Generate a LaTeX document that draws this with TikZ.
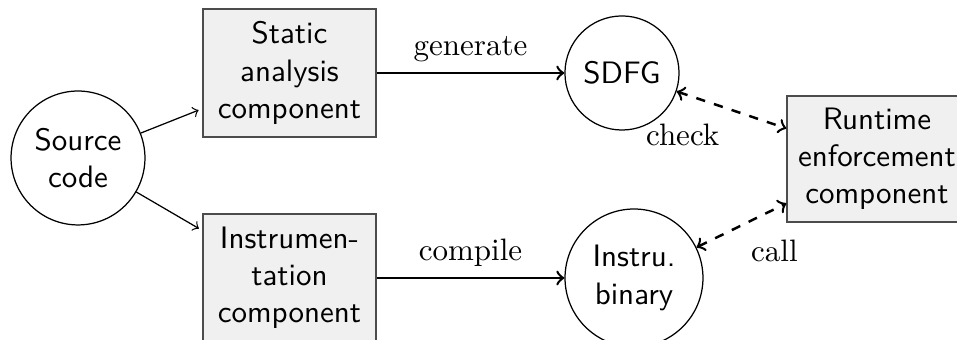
\documentclass[tikz,border=0pt]{standalone}
\usetikzlibrary{arrows}

\tikzset{
  comp/.style={rectangle, draw=black!70, fill=black!6, font=\sffamily,
    align=center, inner sep=0pt},
  blob/.style={circle, draw, font=\sffamily, align=center, inner sep=0pt},
  lbl/.style={font=\rmfamily},
  flow/.style={->, thick},
  feed/.style={->, thin, shorten >=1.3pt},
  talk/.style={<->, thick, dashed},
}

\begin{document}
\begin{tikzpicture}[x=0.3226pt, y=-0.3226pt]
  \useasboundingbox (0,0) rectangle (957,340);

  % inputs and components
  \node[blob, minimum size=43.2pt] (src) at (78,158) {Source\\code};
  \node[comp, minimum width=55.8pt, minimum height=41.3pt] (sa) at (289.5,73)
    {Static\\analysis\\component};
  \node[comp, minimum width=55.8pt, minimum height=41.3pt] (ins) at (289.5,278)
    {Instrumen-\\tation\\component};

  % products
  \node[blob, minimum size=36.8pt] (sdfg) at (622,73) {SDFG};
  \node[blob, minimum size=44.5pt] (bin) at (634,278) {Instru.\\binary};

  % runtime side
  \node[comp, minimum width=58.1pt, minimum height=40.6pt] (rt) at (877,159)
    {Runtime\\enforcement\\component};

  % connectors
  \draw[feed] (src) -- ([yshift=-11.5pt]sa.west);
  \draw[feed] (src) -- ([yshift=15.3pt]ins.west);

  \draw[flow] (sa) -- (sdfg) node[lbl, midway, above] {generate};
  \draw[flow] (ins) -- (bin) node[lbl, midway, above] {compile};

  \draw[talk] (sdfg) -- (rt) node[lbl, pos=0.055, below=6.2pt] {check};
  \draw[talk] (bin) -- (rt) node[lbl, pos=0.867, below=6.3pt] {call};
\end{tikzpicture}
\end{document}
